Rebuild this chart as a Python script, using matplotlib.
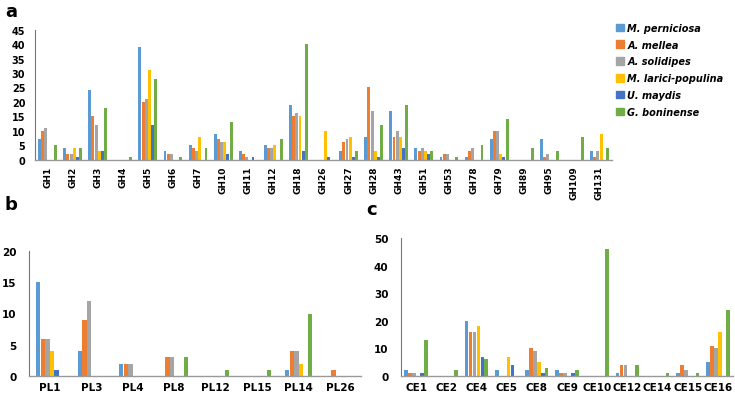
import numpy as np
import matplotlib
matplotlib.use("Agg")
import matplotlib.pyplot as plt
from matplotlib.patches import Patch

species = ["M. perniciosa", "A. mellea", "A. solidipes",
           "M. larici-populina", "U. maydis", "G. boninense"]
colors = ["#5B9BD5", "#ED7D31", "#A5A5A5", "#FFC000", "#4472C4", "#70AD47"]

# panel a: glycoside hydrolase families
gh_labels = ["GH1", "GH2", "GH3", "GH4", "GH5", "GH6", "GH7", "GH10", "GH11",
             "GH12", "GH18", "GH26", "GH27", "GH28", "GH43", "GH51", "GH53",
             "GH78", "GH79", "GH89", "GH95", "GH109", "GH131"]
gh_mp = [7, 4, 24, 0, 39, 3, 5, 9, 3, 5, 19, 0, 3, 8, 17, 4, 1, 1, 7, 0, 7, 0, 3]
gh_am = [10, 2, 15, 0, 20, 2, 4, 7, 2, 4, 15, 0, 6, 25, 8, 3, 2, 3, 10, 0, 1, 0, 1]
gh_as = [11, 2, 12, 0, 21, 2, 3, 6, 1, 4, 16, 0, 7, 17, 10, 4, 2, 4, 10, 0, 2, 0, 3]
gh_ml = [0, 4, 3, 0, 31, 0, 8, 6, 0, 5, 15, 10, 8, 3, 8, 3, 0, 0, 2, 0, 0, 0, 9]
gh_um = [0, 1, 3, 0, 12, 0, 0, 2, 1, 0, 3, 1, 1, 1, 4, 2, 0, 0, 1, 0, 0, 0, 0]
gh_gb = [5, 4, 18, 1, 28, 1, 4, 13, 0, 7, 40, 0, 3, 12, 19, 3, 1, 5, 14, 4, 3, 8, 4]

# panel b: polysaccharide lyases
pl_labels = ["PL1", "PL3", "PL4", "PL8", "PL12", "PL15", "PL14", "PL26"]
pl_mp = [15, 4, 2, 0, 0, 0, 1, 0]
pl_am = [6, 9, 2, 3, 0, 0, 4, 1]
pl_as = [6, 12, 2, 3, 0, 0, 4, 0]
pl_ml = [4, 0, 0, 0, 0, 0, 2, 0]
pl_um = [1, 0, 0, 0, 0, 0, 0, 0]
pl_gb = [0, 0, 0, 3, 1, 1, 10, 0]

# panel c: carbohydrate esterases
ce_labels = ["CE1", "CE2", "CE4", "CE5", "CE8", "CE9", "CE10", "CE12",
             "CE14", "CE15", "CE16"]
ce_mp = [2, 0, 20, 2, 2, 2, 0, 1, 0, 1, 5]
ce_am = [1, 0, 16, 0, 10, 1, 0, 4, 0, 4, 11]
ce_as = [1, 0, 16, 0, 9, 1, 0, 4, 0, 2, 10]
ce_ml = [0, 0, 18, 7, 5, 0, 0, 0, 0, 0, 16]
ce_um = [1, 0, 7, 4, 1, 1, 0, 0, 0, 0, 0]
ce_gb = [13, 2, 6, 0, 3, 2, 46, 4, 1, 1, 24]

plt.rcParams['font.family'] = ['DejaVu Sans']

W, H = 735, 402
fig = plt.figure(figsize=(W / 100, H / 100), dpi=100)


def px_axes(left, bottom_y, right, top_y):
    # pixel coords (top-left origin) -> figure fraction
    return fig.add_axes([left / W, (H - bottom_y) / H,
                         (right - left) / W, (bottom_y - top_y) / H])


def draw_groups(ax, labels, series, ymax, step, group_frac, ytick_size, xtick_size, rot):
    n = len(labels)
    x = np.arange(n)
    bw = group_frac / len(series)
    for i, vals in enumerate(series):
        off = (i - (len(series) - 1) / 2) * bw
        ax.bar(x + off, vals, width=bw * 0.92, color=colors[i], linewidth=0)
    ax.set_xlim(-0.5, n - 0.5)
    ax.set_ylim(0, ymax)
    ax.set_yticks(np.arange(0, ymax + 1, step))
    ax.set_xticks(x)
    ax.set_xticklabels(labels, rotation=rot, fontweight='bold', fontsize=xtick_size)
    for t in ax.get_yticklabels():
        t.set_fontweight('bold')
        t.set_fontsize(ytick_size)
    ax.tick_params(length=0, pad=4)
    ax.spines['top'].set_visible(False)
    ax.spines['right'].set_visible(False)
    ax.spines['left'].set_color('#777777')
    ax.spines['bottom'].set_color('#999999')
    ax.spines['left'].set_linewidth(0.8)
    ax.spines['bottom'].set_linewidth(1.0)


ax_a = px_axes(35, 160.7, 612, 30.7)
draw_groups(ax_a, gh_labels, [gh_mp, gh_am, gh_as, gh_ml, gh_um, gh_gb],
            45, 5, 0.76, 7, 6.5, 90)
ax_a.tick_params(axis='y', pad=7)

ax_b = px_axes(29, 377, 361, 252)
draw_groups(ax_b, pl_labels, [pl_mp, pl_am, pl_as, pl_ml, pl_um, pl_gb],
            20, 5, 0.66, 7.5, 7.5, 0)
ax_b.tick_params(axis='y', pad=9)

ax_c = px_axes(401, 377, 733, 239)
draw_groups(ax_c, ce_labels, [ce_mp, ce_am, ce_as, ce_ml, ce_um, ce_gb],
            50, 10, 0.78, 7.5, 7.5, 0)
ax_c.tick_params(axis='y', pad=9)

handles = [Patch(facecolor=c, edgecolor=c) for c in colors]
leg = fig.legend(handles, species, loc='upper left',
                 bbox_to_anchor=(607 / W, 1 - 15 / H), frameon=False,
                 prop={'style': 'italic', 'weight': 'bold', 'size': 7},
                 handlelength=0.8, handleheight=0.8, handletextpad=0.4,
                 labelspacing=0.7)

fig.text(5 / W, 1 - 12 / H, "a", fontsize=13, fontweight='bold', va='center')
fig.text(5 / W, 1 - 205 / H, "b", fontsize=13, fontweight='bold', va='center')
fig.text(366 / W, 1 - 210 / H, "c", fontsize=13, fontweight='bold', va='center')

fig.savefig("out.png", dpi=100)
